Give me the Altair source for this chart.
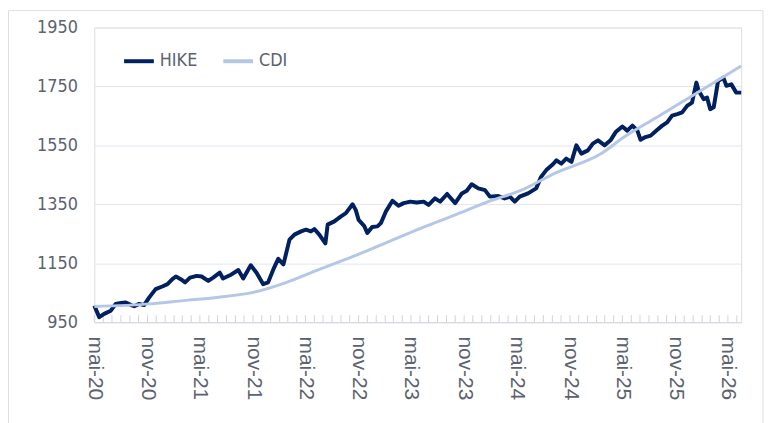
import altair as alt
import pandas as pd

# ---- data ----
hike_dates = [
    "2020-05-01", "2020-05-18", "2020-06-04", "2020-06-27", "2020-07-14", "2020-08-01", "2020-08-18",
    "2020-09-05", "2020-09-16", "2020-10-03", "2020-10-20", "2020-11-07", "2020-11-29", "2020-12-22",
    "2021-01-09", "2021-01-26", "2021-02-07", "2021-02-24", "2021-03-11", "2021-03-28", "2021-04-20",
    "2021-05-07", "2021-05-30", "2021-06-16", "2021-07-09", "2021-07-20", "2021-08-13", "2021-09-11",
    "2021-09-28", "2021-10-24", "2021-11-13", "2021-12-06", "2021-12-23", "2022-01-10", "2022-01-27",
    "2022-02-14", "2022-03-07", "2022-03-24", "2022-04-16", "2022-05-03", "2022-05-20", "2022-06-01",
    "2022-06-18", "2022-07-09", "2022-07-17", "2022-08-09", "2022-09-01", "2022-09-18", "2022-10-11",
    "2022-10-22", "2022-11-01", "2022-11-20", "2022-12-01", "2022-12-18", "2023-01-05", "2023-01-17",
    "2023-02-03", "2023-02-26", "2023-03-19", "2023-04-06", "2023-04-29", "2023-05-21", "2023-06-14",
    "2023-07-01", "2023-07-23", "2023-08-10", "2023-09-03", "2023-10-01", "2023-10-24", "2023-11-10",
    "2023-11-27", "2023-12-20", "2024-01-12", "2024-01-29", "2024-02-27", "2024-03-20", "2024-04-07",
    "2024-04-24", "2024-05-11", "2024-06-09", "2024-07-07", "2024-07-24", "2024-08-11", "2024-09-03",
    "2024-09-15", "2024-10-02", "2024-10-19", "2024-11-06", "2024-11-23", "2024-12-10", "2025-01-02",
    "2025-01-19", "2025-02-06", "2025-03-01", "2025-03-21", "2025-04-08", "2025-05-01", "2025-05-18",
    "2025-06-05", "2025-06-22", "2025-07-03", "2025-07-20", "2025-08-07", "2025-08-30", "2025-09-16",
    "2025-10-03", "2025-10-20", "2025-11-07", "2025-11-24", "2025-12-11", "2025-12-28", "2026-01-12",
    "2026-01-20", "2026-02-06", "2026-02-18", "2026-03-01", "2026-03-13", "2026-03-28", "2026-04-15",
    "2026-04-26", "2026-05-13", "2026-05-30", "2026-06-16",
]
hike_values = [
    1006, 967, 978, 989, 1012, 1015, 1017,
    1008, 1004, 1012, 1008, 1034, 1062, 1071,
    1079, 1096, 1105, 1096, 1085, 1101, 1107,
    1105, 1090, 1101, 1118, 1098, 1109, 1127,
    1098, 1143, 1118, 1079, 1085, 1129, 1165,
    1146, 1230, 1247, 1258, 1264, 1258, 1266,
    1247, 1217, 1281, 1292, 1309, 1320, 1350,
    1331, 1297, 1277, 1253, 1273, 1275, 1286,
    1325, 1362, 1345, 1354, 1359, 1356, 1359,
    1348, 1370, 1359, 1385, 1354, 1387, 1396,
    1418, 1404, 1398, 1376, 1378, 1370, 1376,
    1359, 1376, 1387, 1404, 1443, 1466, 1486,
    1499, 1488, 1505, 1494, 1550, 1522, 1533,
    1556, 1567, 1550, 1567, 1595, 1614, 1600,
    1617, 1600, 1569, 1578, 1583, 1603, 1617,
    1628, 1651, 1656, 1662, 1684, 1695, 1763,
    1735, 1707, 1712, 1673, 1679, 1768, 1780,
    1752, 1757, 1729, 1729,
]

cdi_dates = [
    "2020-05-01", "2020-11-12", "2021-03-05", "2021-06-28", "2021-11-02", "2022-02-25",
    "2022-06-18", "2022-10-11", "2023-02-03", "2023-06-08", "2023-10-01", "2024-01-23",
    "2024-05-17", "2024-09-09", "2025-02-17", "2025-05-07", "2025-08-30", "2025-12-22",
    "2026-06-16",
]
cdi_values = [
    1003, 1012, 1023, 1034, 1051, 1085,
    1129, 1172, 1219, 1270, 1314, 1359,
    1398, 1455, 1522, 1578, 1646, 1714,
    1819,
]

series_names = ["HIKE", "CDI"]
series_colors = ["#002060", "#b4c7e7"]

# x-axis labels: every May and November from mai-20 to mai-26
label_months = [(2020 + k // 2, 5 if k % 2 == 0 else 11) for k in range(13)]
y_ticks = [950, 1150, 1350, 1550, 1750, 1950]

# ---- frames ----
hike_df = pd.DataFrame({"date": pd.to_datetime(hike_dates), "value": hike_values, "series": "HIKE"})
cdi_df = pd.DataFrame({"date": pd.to_datetime(cdi_dates), "value": cdi_values, "series": "CDI"})
tick_df = pd.DataFrame({"date": pd.date_range("2020-05-01", "2026-06-01", freq="MS")})

W, H = 652, 297
TEXT = "#5b6270"
NARROW = "DejaVu Sans Condensed, Liberation Sans, sans-serif"

label_values = [alt.DateTime(year=yr, month=mo, date=1) for yr, mo in label_months]

x_enc = alt.X(
    "date:T",
    scale=alt.Scale(domain=[alt.DateTime(year=2020, month=5, date=1),
                            alt.DateTime(year=2026, month=6, date=16)]),
    axis=alt.Axis(
        values=label_values,
        labelExpr="(month(datum.value) == 4 ? 'mai' : 'nov') + '-' + timeFormat(datum.value, '%y')",
        labelAngle=90,
        labelPadding=14,
        labelFont="Liberation Sans",
        labelFontSize=21,
        labelColor=TEXT,
        ticks=False,
        grid=False,
        domainColor="#d3d8e0",
        domainWidth=1,
        labelOverlap=False,
        labelFlush=False,
        title=None,
    ),
)
y_enc = alt.Y(
    "value:Q",
    scale=alt.Scale(domain=[950, 1950], nice=False, zero=False),
    axis=alt.Axis(
        values=y_ticks,
        format="d",
        labelFont=NARROW,
        labelFontSize=18,
        labelColor=TEXT,
        labelPadding=17,
        ticks=False,
        domain=False,
        grid=True,
        gridColor="#e1e6ee",
        gridWidth=1,
        title=None,
    ),
)
color_enc = alt.Color(
    "series:N",
    scale=alt.Scale(domain=series_names, range=series_colors),
    legend=alt.Legend(
        title=None,
        orient="none",
        legendX=28,
        legendY=17,
        direction="horizontal",
        symbolType="stroke",
        symbolSize=900,
        symbolStrokeWidth=4,
        labelFont=NARROW,
        labelFontSize=18,
        labelColor=TEXT,
        labelOffset=4,
        columnPadding=18,
    ),
)

frame = alt.Chart(pd.DataFrame({"k": [0]})).mark_rect(
    fill=None, stroke="#dcdfe4", strokeWidth=1, clip=False
).encode(
    x=alt.value(-86.5), x2=alt.value(674), y=alt.value(-17), y2=alt.value(410)
)

ticks = alt.Chart(tick_df).mark_rule(color="#cfd5de", strokeWidth=1).encode(
    x=x_enc, y=alt.value(H - 7), y2=alt.value(H)
)

hike = alt.Chart(hike_df).mark_line(strokeWidth=4, strokeJoin="round").encode(
    x=x_enc, y=y_enc, color=color_enc
)
cdi = alt.Chart(cdi_df).mark_line(strokeWidth=3, interpolate="monotone").encode(
    x=x_enc, y=y_enc, color=color_enc
)

chart = alt.layer(frame, ticks, hike, cdi).properties(
    width=W,
    height=H,
    autosize=alt.AutoSizeParams(type="none"),
    padding={"left": 87, "top": 18, "right": 23, "bottom": 100},
).configure_view(stroke=None).configure(background="white")

chart.save("out.html", embed_options={"renderer": "svg", "actions": False})
